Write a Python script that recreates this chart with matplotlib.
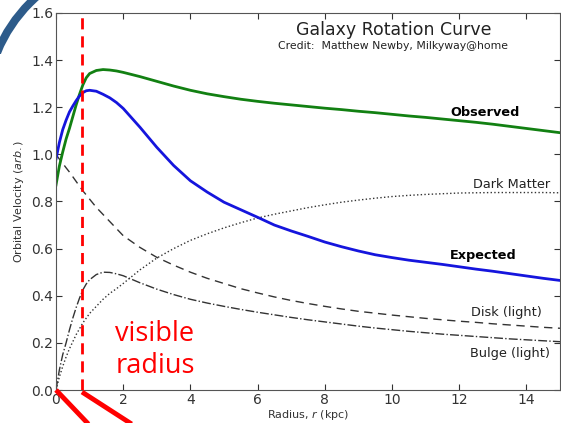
import numpy as np
import matplotlib
matplotlib.use('Agg')
import matplotlib.pyplot as plt
from matplotlib.patches import Ellipse
from matplotlib.lines import Line2D
from matplotlib.transforms import Bbox, TransformedBbox

# Radius samples (kpc) and curves
radius = [0, 0.1, 0.2, 0.3, 0.4, 0.5, 0.6, 0.7, 0.8, 0.9, 1.0,
          1.2, 1.4, 1.6, 1.8,
          2.0, 2.5, 3.0, 3.5, 4.0, 4.5, 5.0, 5.5, 6.0, 6.5, 7.0, 7.5, 8.0,
          8.5, 9.0, 9.5, 10, 10.5, 11, 11.5, 12, 12.5, 13, 13.5, 14, 14.5, 15]
observed = [0.87, 0.95, 1.01, 1.065, 1.11, 1.16, 1.21, 1.255, 1.295, 1.325,
            1.343,
            1.356, 1.36, 1.358, 1.354,
            1.348, 1.33, 1.31, 1.29, 1.272, 1.257, 1.245, 1.234, 1.225,
            1.217, 1.21, 1.203, 1.196, 1.19, 1.183, 1.177, 1.17, 1.163,
            1.157, 1.15, 1.143, 1.136, 1.128, 1.119, 1.11, 1.101, 1.092]
expected = [0.98, 1.05, 1.105, 1.145, 1.18, 1.205, 1.228, 1.248, 1.262, 1.27,
            1.272,
            1.268, 1.255, 1.24, 1.22,
            1.195, 1.115, 1.03, 0.953, 0.888, 0.84, 0.797, 0.765, 0.733,
            0.70, 0.675, 0.652, 0.628, 0.608, 0.59, 0.574, 0.562, 0.551,
            0.542, 0.533, 0.523, 0.513, 0.504, 0.494, 0.484, 0.474, 0.465]
dark_matter = [0, 0.055, 0.1, 0.14, 0.175, 0.205, 0.235, 0.26, 0.285, 0.305,
               0.325,
               0.355, 0.385, 0.41, 0.43,
               0.452, 0.51, 0.56, 0.60, 0.635, 0.663, 0.688, 0.71, 0.73,
               0.746, 0.76, 0.774, 0.786, 0.797, 0.806, 0.814, 0.821, 0.826,
               0.83, 0.833, 0.836, 0.837, 0.838, 0.838, 0.838, 0.838, 0.837]
disk = [1.0, 0.98, 0.962, 0.943, 0.925, 0.905, 0.885, 0.865, 0.845, 0.828,
        0.81,
        0.775, 0.745, 0.715, 0.685,
        0.655, 0.605, 0.563, 0.53, 0.50, 0.474, 0.452, 0.43, 0.412, 0.395,
        0.38, 0.367, 0.355, 0.344, 0.334, 0.326, 0.318, 0.311, 0.304, 0.298,
        0.292, 0.287, 0.281, 0.276, 0.271, 0.266, 0.262]
bulge = [0, 0.085, 0.15, 0.2, 0.255, 0.305, 0.35, 0.39, 0.425, 0.45, 0.468,
         0.49, 0.50, 0.499, 0.493,
         0.485, 0.455, 0.428, 0.405, 0.385, 0.369, 0.355, 0.342, 0.33,
         0.319, 0.308, 0.298, 0.289, 0.28, 0.271, 0.263, 0.256, 0.249,
         0.243, 0.237, 0.232, 0.227, 0.222, 0.217, 0.213, 0.209, 0.205]
visible_radius = 0.77

xticks = [0, 2, 4, 6, 8, 10, 12, 14]
yticks = [0.0, 0.2, 0.4, 0.6, 0.8, 1.0, 1.2, 1.4, 1.6]

plt.rcParams['font.family'] = ['DejaVu Sans']

W, H = 561, 423
fig = plt.figure(figsize=(W / 100, H / 100), dpi=100)

# slide decoration peeking out at the top-left corner only
arc = Ellipse((136 / W, 1 - 109 / H), 2 * 150 / W, 2 * 150 / H,
              transform=fig.transFigure, fill=False, edgecolor='#2d5b8a',
              lw=5.8, zorder=-5)
corner = Bbox([[0, 1 - 54 / H], [56 / W, 1]])
arc.set_clip_box(TransformedBbox(corner, fig.transFigure))
fig.add_artist(arc)

ax = fig.add_axes([56 / W, 1 - 390 / H, 504 / W, 377 / H])
ax.set_facecolor('white')

ax.plot(radius, dark_matter, ':', color='#333333', lw=1.0)
ax.plot(radius, disk, '--', color='#333333', lw=1.0, dashes=(6, 4))
ax.plot(radius, bulge, '-.', color='#333333', lw=1.0)
ax.plot(radius, observed, '-', color='#128012', lw=2)
ax.plot(radius, expected, '-', color='#1515dd', lw=2)

ax.axvline(visible_radius, color='red', lw=2, ls='--', dashes=(4, 2.5),
           zorder=5)

ax.set_xlim(0, 15)
ax.set_ylim(0, 1.6)
ax.set_xticks(xticks)
ax.set_yticks(yticks)
ax.set_yticklabels(['%.1f' % v for v in yticks])
ax.tick_params(direction='in', top=True, right=True, length=4,
               labelsize=10, colors='#333333', pad=2)
for s in ax.spines.values():
    s.set_color('#555555')

ax.set_xlabel('Radius, $r$ (kpc)', fontsize=8, color='#333333', labelpad=1)
ax.set_ylabel('Orbital Velocity ($arb.$)', fontsize=8, color='#333333',
              labelpad=4)

txt = '#222222'
ax.text(10.04, 1.528, 'Galaxy Rotation Curve', ha='center', va='center',
        fontsize=12.5, color=txt)
ax.text(10.04, 1.46, 'Credit:  Matthew Newby, Milkyway@home', ha='center',
        va='center', fontsize=7.8, color=txt)
ax.text(13.81, 1.179, 'Observed', ha='right', va='center', fontsize=9.3,
        fontweight='bold', color='black')
ax.text(14.7, 0.872, 'Dark Matter', ha='right', va='center', fontsize=9.3,
        color=txt)
ax.text(13.72, 0.57, 'Expected', ha='right', va='center', fontsize=9.3,
        fontweight='bold', color='black')
ax.text(14.46, 0.328, 'Disk (light)', ha='right', va='center', fontsize=9.3,
        color=txt)
ax.text(14.7, 0.157, 'Bulge (light)', ha='right', va='center', fontsize=9.3,
        color=txt)

ax.text(1.76, 0.17, 'visible\nradius', ha='left', va='center',
        multialignment='left', fontsize=19.5, color='red',
        family='Open Sans', linespacing=1.2)

# red pointer strokes leaving the bottom of the slide
for (x0, y0), (x1, y1) in [((56, 390), (96, 432)), ((82, 392), (144, 432))]:
    fig.add_artist(Line2D([x0 / W, x1 / W], [1 - y0 / H, 1 - y1 / H],
                          transform=fig.transFigure, color='red', lw=3.5,
                          solid_capstyle='butt', zorder=10))

fig.savefig('out.png', dpi=100)
